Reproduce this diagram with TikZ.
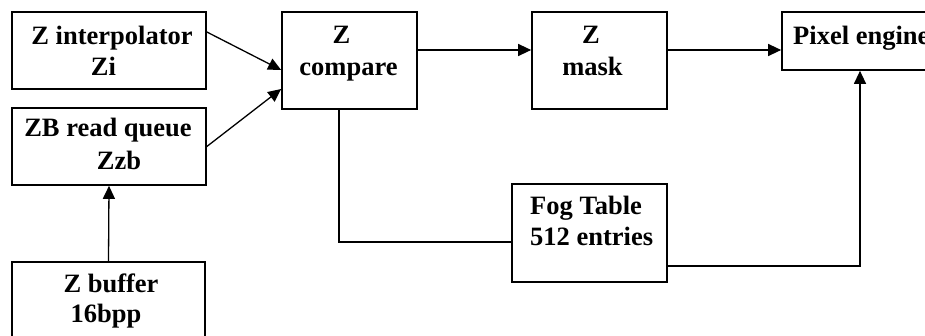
\documentclass[tikz,border=0pt]{standalone}
\usepackage{fontspec}
\setmainfont{Liberation Serif}
\usetikzlibrary{arrows.meta,calc}
\begin{document}
\begin{tikzpicture}[x=1pt,y=-1pt,
  box/.style={draw,line width=1.7pt,rectangle,inner sep=0pt,minimum width=#1},
  txt/.style={inner sep=0pt,font=\fontsize{26.5}{31}\selectfont\bfseries},
  conn/.style={line width=1.3pt},
  arr/.style={conn,-{Triangle[length=13pt,width=12pt]}}]
\useasboundingbox (0,0) rectangle (925,336);
\clip (0,0) rectangle (925,336);
% boxes
\node[box=194pt,minimum height=77pt] (zi) at (109,50.5) {};
\node[box=194pt,minimum height=77pt] (zb) at (109,146.5) {};
\node[box=193pt,minimum height=80pt] (zbuf) at (108.5,302) {};
\node[box=135pt,minimum height=97pt] (zc) at (349.5,60.5) {};
\node[box=135pt,minimum height=97pt] (zm) at (599.5,60.5) {};
\node[box=155pt,minimum height=58pt] (pe) at (859.5,41) {};
\node[box=155pt,minimum height=98pt] (fog) at (589.5,233) {};
% texts
\node[txt,anchor=base] (zi1) at (112,45) {Z interpolator};
\node[txt,anchor=base] (zi2) at (103.5,76) {Zi};
\node[txt,anchor=base] (zb1) at (108,137) {ZB read queue};
\node[txt,anchor=base] (zb2) at (119,170) {Zzb};
\node[txt,anchor=base] (zbuf1) at (111,293) {Z buffer};
\node[txt,anchor=base] (zbuf2) at (106,322) {16bpp};
\node[txt,anchor=base] (zc1) at (341.5,44) {Z};
\node[txt,anchor=base] (zc2) at (348.5,76) {compare};
\node[txt,anchor=base] (zm1) at (591,44) {Z};
\node[txt,anchor=base] (zm2) at (592.5,76) {mask};
\node[txt,anchor=base west] (pe1) at (793,45) {Pixel engine};
\node[txt,anchor=base west] (fog1) at (530,215) {Fog Table};
\node[txt,anchor=base west] (fog2) at (530,246) {512 entries};
% connectors
\draw[arr] ([yshift=18.5pt]zi.east) -- ([yshift=-9.5pt]zc.west);
\draw[arr] (zb.east) -- ([yshift=-28.5pt]zc.west);
\draw[arr] (zbuf.north) -- (zb.south);
\draw[arr] ([yshift=10.5pt]zc.east) -- ([yshift=10.5pt]zc.east -| zm.west);
\draw[arr] ([yshift=10.5pt]zm.east) -- ([yshift=10.5pt]zm.east -| pe.west);
\draw[conn] ([xshift=-10.5pt]zc.south) |- ([yshift=-9pt]fog.west);
\draw[arr] ([yshift=-33pt]fog.east) -| ([xshift=0.5pt]pe.south);
\end{tikzpicture}
\end{document}
